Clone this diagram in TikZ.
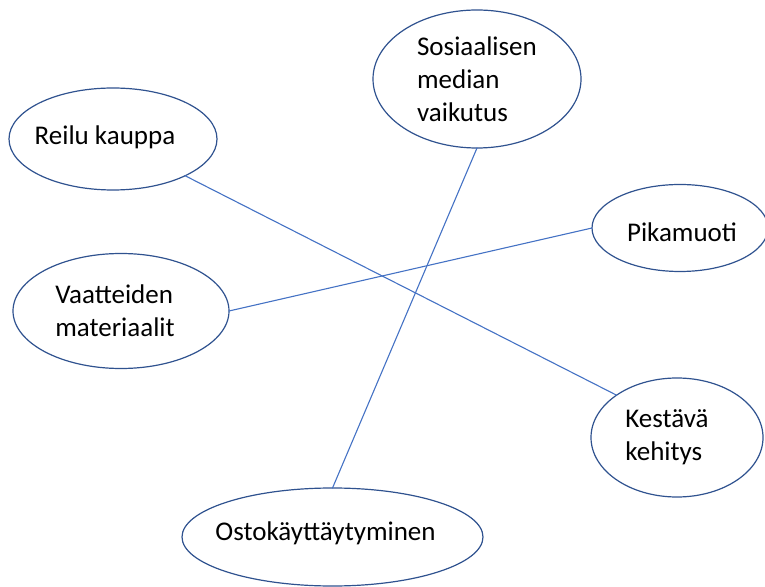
\documentclass[tikz,border=0pt]{standalone}
\usepackage{fontspec}
\setmainfont{Carlito}
\usetikzlibrary{shapes.geometric}
\definecolor{reuna}{RGB}{47,82,143}
\definecolor{viiva}{RGB}{68,114,196}
\tikzset{
	kupla/.style={draw=reuna, line width=0.6pt, ellipse, inner sep=0pt, outer sep=0pt},
	teksti/.style={align=left, font=\fontsize{13.5}{16.5}\selectfont},
	yhteys/.style={draw=viiva, line width=0.55pt}
}
\begin{document}
\begin{tikzpicture}[x=0.5pt, y=-0.5pt, line join=round, line cap=round]
	\useasboundingbox (0,0) rectangle (765,587);
	\node[kupla, minimum width=208pt*0.5, minimum height=138pt*0.5, label={[teksti]center:Sosiaalisen\\median\\vaikutus}] (some) at (477,79) {};
	\node[kupla, minimum width=208pt*0.5, minimum height=102pt*0.5, label={[teksti, xshift=-4pt, yshift=1pt]center:Reilu kauppa}] (reilu) at (113,139) {};
	\node[kupla, minimum width=176pt*0.5, minimum height=87pt*0.5, label={[teksti, xshift=1pt, yshift=-2pt]center:Pikamuoti}] (pikamuoti) at (680,228) {};
	\node[kupla, minimum width=216pt*0.5, minimum height=115pt*0.5, label={[teksti, xshift=-3pt]center:Vaatteiden\\materiaalit}] (vaatteet) at (121,311) {};
	\node[kupla, minimum width=172pt*0.5, minimum height=119pt*0.5, label={[teksti, xshift=-5pt]center:Kestävä\\kehitys}] (kestava) at (677,437.5) {};
	\node[kupla, minimum width=301pt*0.5, minimum height=98pt*0.5, label={[teksti, xshift=-3.5pt, yshift=2pt]center:Ostokäyttäytyminen}] (osto) at (332.5,537) {};
	% yhteydet
	\foreach \a/\b in {reilu.-27/kestava.145, vaatteet.east/pikamuoti.west, some.south/osto.north}
	\draw[yhteys] (\a) -- (\b);
\end{tikzpicture}
\end{document}
